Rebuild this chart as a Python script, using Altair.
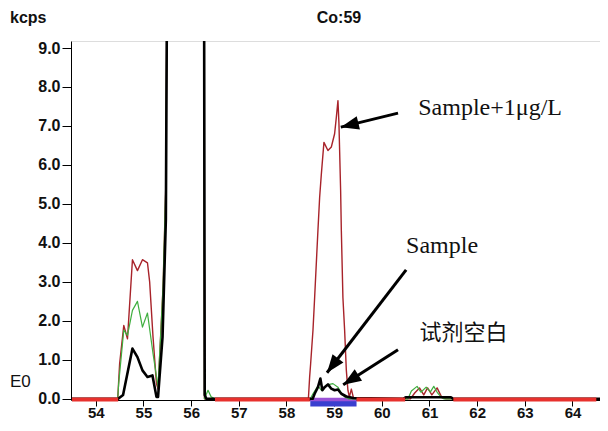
import math
import altair as alt
import pandas as pd

# ---------------- data ----------------
# Sample + 1 ug/L (dark red trace)
red_x = [53.48, 54.46, 54.50, 54.587, 54.665, 54.769, 54.874, 54.979, 55.084, 55.13, 55.20, 55.273, 55.306,
         55.411, 55.47, 55.50, 56.27, 56.28, 58.46, 58.486, 58.507, 58.556, 58.591, 58.66, 58.696, 58.732,
         58.786, 58.87, 58.941, 59.01, 59.046, 59.08, 59.101, 59.136, 59.151, 59.184, 59.22, 59.256, 59.289,
         59.32, 59.361, 59.40, 59.44, 60.60, 60.69, 60.79, 60.88, 60.96, 61.05, 61.16, 61.26, 61.35, 64.64]
red_y = [0, 0, 0.9, 1.88, 1.54, 3.57, 3.29, 3.57, 3.49, 3.0, 1.6, 0.39, 0.25,
         2.87, 5.5, 12, 12, 0, 0, 0.56, 0.9, 1.76, 2.6, 4.32, 5.17, 5.77,
         6.58, 6.37, 6.46, 6.80, 7.22, 7.65, 7.06, 5.35, 4.32, 2.6, 1.76, 0.73, 0.22,
         0.05, 0.25, 0.05, 0, 0, 0.15, 0.28, 0.1, 0.28, 0.1, 0.28, 0.03, 0, 0]

# green trace
green_x = [53.48, 54.46, 54.48, 54.587, 54.665, 54.769, 54.874, 54.979, 55.084, 55.201, 55.306, 55.411,
           55.47, 55.50, 56.27, 56.28, 56.354, 56.42, 56.50, 58.50, 58.556, 58.66, 58.73, 58.836, 58.975,
           59.08, 59.151, 59.22, 59.30, 60.55, 60.62, 60.74, 60.82, 60.93, 61.02, 61.09, 61.17, 61.24,
           61.30, 64.64]
green_y = [0, 0, 0.39, 1.76, 1.63, 2.27, 2.5, 1.84, 2.2, 1.16, 0.3, 2.87,
           5.5, 12, 12, 0, 0.22, 0.05, 0, 0, 0.13, 0.33, 0.22, 0.35, 0.39,
           0.3, 0.15, 0.05, 0, 0, 0.2, 0.32, 0.17, 0.3, 0.18, 0.32, 0.15, 0.05,
           0, 0]

# reagent blank (black trace)
black_x = [53.48, 54.47, 54.572, 54.769, 54.874, 54.979, 55.084, 55.189, 55.273, 55.306, 55.40, 55.47,
           55.50, 56.27, 56.285, 56.32, 58.55, 58.591, 58.66, 58.711, 58.753, 58.801, 58.87, 58.941,
           59.01, 59.08, 59.151, 59.256, 59.40, 60.45, 60.50, 61.45, 61.50, 64.64]
black_y = [0, 0, 0.1, 1.29, 1.07, 0.73, 0.56, 0.6, 0.05, 0.05, 1.58, 4.6,
           12, 12, 0.1, 0, 0, 0.13, 0.3, 0.52, 0.22, 0.3, 0.37, 0.26,
           0.22, 0.24, 0.13, 0.06, 0.02, 0, 0.04, 0.04, 0, 0]

# background integration regions (red) and the peak region (blue)
band_start = [53.5, 56.5, 59.47, 61.5]
band_end = [54.47, 58.49, 60.49, 64.5]
peak_start = [58.5]
peak_end = [59.47]

x_ticks = [54, 55, 56, 57, 58, 59, 60, 61, 62, 63, 64]
y_ticks = [0, 1, 2, 3, 4, 5, 6, 7, 8, 9]

# annotations
ann_text = ["Sample+1μg/L", "Sample"]
ann_x = [60.765, 60.51]
ann_y = [7.28, 3.74]
cjk_text = ["试剂空白"]
cjk_x = [60.79]
cjk_y = [1.69]

arrow_x0 = [60.34, 60.51, 60.34]
arrow_y0 = [7.33, 3.31, 1.26]
arrow_x1 = [59.14, 58.85, 59.19]
arrow_y1 = [6.97, 0.67, 0.36]

# ---------------- layout ----------------
PX_X = 47.67          # pixels per x unit
X_MIN = 53.48
W, H = 529, 359
X_DOMAIN = [X_MIN, X_MIN + W / PX_X]
Y_DOMAIN = [-0.03, 9.18]
px_per_x = W / (X_DOMAIN[1] - X_DOMAIN[0])
px_per_y = H / (Y_DOMAIN[1] - Y_DOMAIN[0])

SANS = "Liberation Sans"
SERIF = "Liberation Serif"

xs = alt.Scale(domain=X_DOMAIN, nice=False, zero=False)
ys = alt.Scale(domain=Y_DOMAIN, nice=False, zero=False)

x_axis = alt.Axis(values=x_ticks, format="d", title=None, grid=False, labelFont=SANS,
                  labelFontSize=15, labelFontWeight="bold", labelColor="#111", tickColor="#000",
                  domainColor="#000", tickSize=6, labelPadding=-1, labelFlush=False,
                  labelOverlap=False)
y_axis = alt.Axis(values=y_ticks, format=".1f", title=None, grid=False, labelFont=SANS,
                  labelFontSize=16, labelFontWeight="bold", labelColor="#111", tickColor="#000",
                  domainColor="#000", tickSize=9, labelPadding=2, labelOverlap=False,
                  labelFlush=False)


def X(field):
    return alt.X(field, type="quantitative", scale=xs, axis=x_axis)


def Y(field):
    return alt.Y(field, type="quantitative", scale=ys, axis=y_axis)


def series(xv, yv):
    return pd.DataFrame({"x": xv, "y": yv})


peak_df = pd.DataFrame({"x": peak_start, "x2": peak_end})
blue = alt.Chart(peak_df).mark_rule(color="#3a3fcf", strokeWidth=8.5, strokeCap="butt").encode(
    x=X("x"), x2="x2:Q", y=alt.datum(-0.09, scale=ys, axis=y_axis))
purple = alt.Chart(peak_df).mark_rule(color="#9a52d6", strokeWidth=3.5, strokeCap="butt").encode(
    x=X("x"), x2="x2:Q", y=alt.datum(-0.02, scale=ys, axis=y_axis))


def line(xv, yv, color, width):
    return alt.Chart(series(xv, yv)).mark_line(color=color, strokeWidth=width, clip=True,
                                                strokeJoin="round").encode(
        x=X("x"), y=Y("y"), order="x:Q")


red_line = line(red_x, red_y, "#a8232a", 1.4)
green_line = line(green_x, green_y, "#3fae3f", 1.2)
black_line = line(black_x, black_y, "#000000", 2.6)

band_df = pd.DataFrame({"x": band_start, "x2": band_end})
bands = alt.Chart(band_df).mark_rule(color="#e8312d", strokeWidth=4, strokeCap="butt").encode(
    x=X("x"), x2="x2:Q", y=alt.datum(-0.02, scale=ys, axis=y_axis))

# arrows
angles = []
for a, b, c, d in zip(arrow_x0, arrow_y0, arrow_x1, arrow_y1):
    dx = (c - a) * px_per_x
    dy = -(d - b) * px_per_y
    angles.append(math.degrees(math.atan2(dx, -dy)) % 360)
arrow_df = pd.DataFrame({"x0": arrow_x0, "y0": arrow_y0, "x1": arrow_x1, "y1": arrow_y1, "ang": angles})
shafts = alt.Chart(arrow_df).mark_rule(color="#000", strokeWidth=3).encode(
    x=X("x0"), y=Y("y0"), x2="x1:Q", y2="y1:Q")
heads = alt.Chart(arrow_df).mark_point(shape="M0,0L-0.38,1L0.38,1Z", filled=True, size=1300,
                                       color="#000", opacity=1, strokeWidth=0).encode(
    x=X("x1"), y=Y("y1"), angle=alt.Angle("ang:Q", scale=None))

ann = alt.Chart(pd.DataFrame({"x": ann_x, "y": ann_y, "t": ann_text})).mark_text(
    font=SERIF, fontSize=24, align="left", baseline="alphabetic", color="#111").encode(
    x=X("x"), y=Y("y"), text="t:N")
cjk = alt.Chart(pd.DataFrame({"x": cjk_x, "y": cjk_y, "t": cjk_text})).mark_text(
    font="Noto Sans CJK SC", fontSize=22, align="left", baseline="middle",
    color="#111").encode(
    x=X("x"), y=Y("y"), text="t:N")


def label(text, px, py, size, weight, align="left"):
    return alt.Chart(pd.DataFrame({"t": [text]})).mark_text(
        font=SANS, fontSize=size, fontWeight=weight, align=align, baseline="middle",
        color="#111").encode(x=alt.value(px), y=alt.value(py), text="t:N")


kcps = label("kcps", -61, -23, 16, "bold")
co = label("Co:59", 268, -23, 16, "bold", "center")
e0 = label("E0", -61, 341, 17, "normal")

chart = alt.layer(
    blue, purple, red_line, green_line, black_line, bands,
    shafts, heads, ann, cjk, kcps, co, e0,
).properties(
    width=W, height=H,
    autosize=alt.AutoSizeParams(type="none"),
    padding={"left": 63, "top": 33, "right": 0, "bottom": 22},
).configure_view(
    stroke="#000", strokeWidth=1
).configure(background="white")

chart.save("out.html", embed_options={"renderer": "svg", "actions": False})
